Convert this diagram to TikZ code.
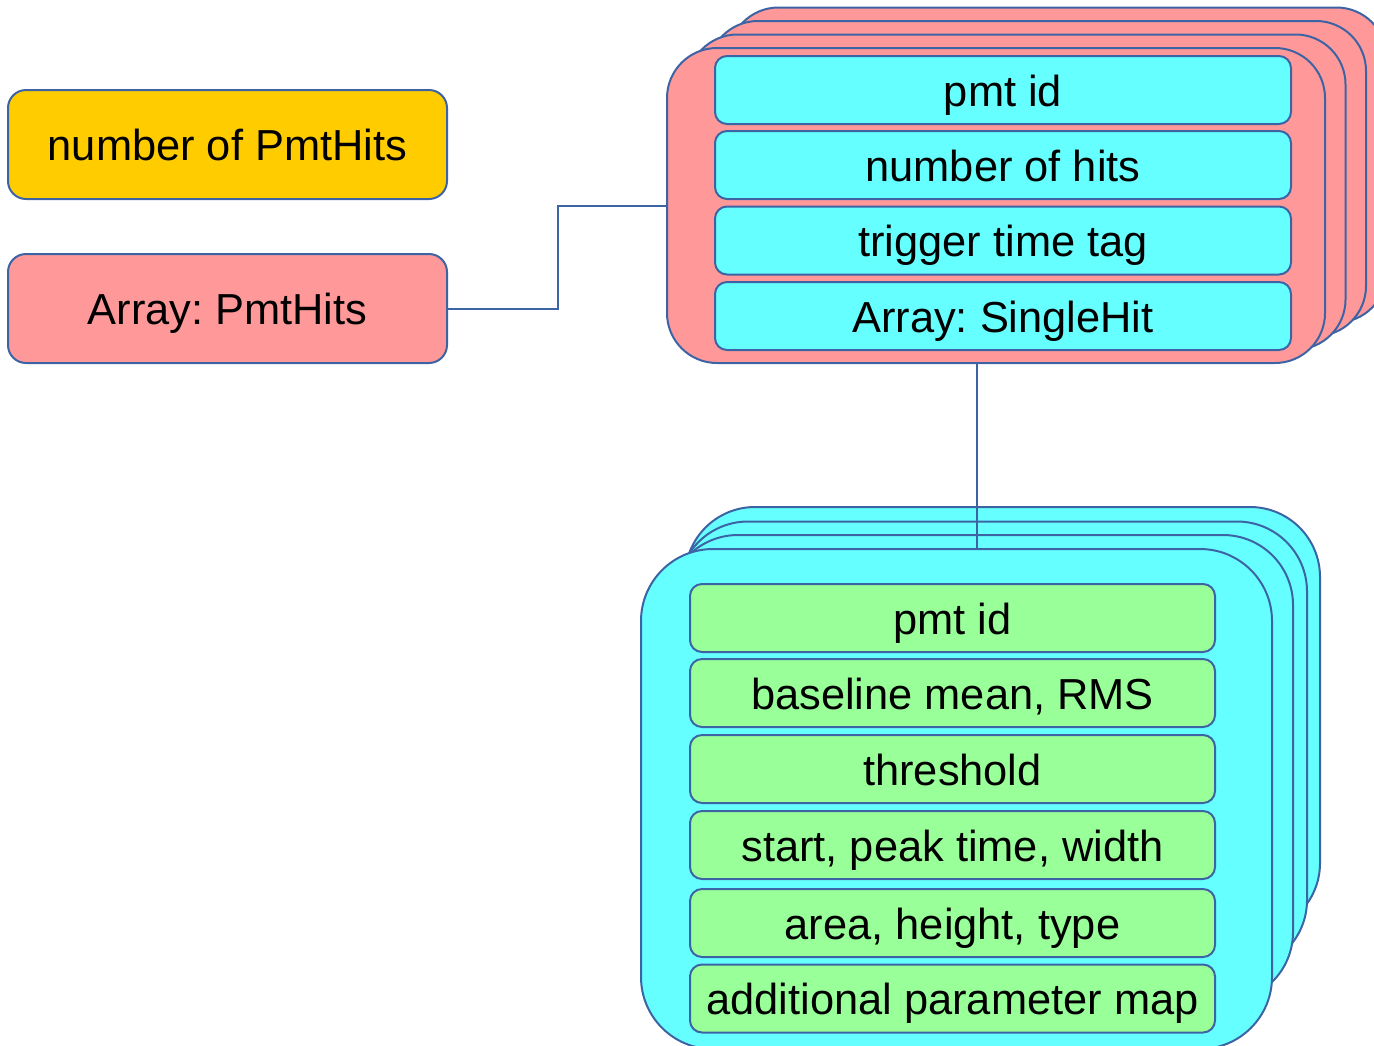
\documentclass[tikz,border=0pt]{standalone}
\usepackage{fontspec}
\setmainfont{Liberation Sans}
\frenchspacing
\definecolor{edge}{RGB}{60,100,165}
\definecolor{gold}{HTML}{FFCC00}
\definecolor{salmon}{HTML}{FF9999}
\definecolor{aqua}{HTML}{66FFFF}
\definecolor{mint}{HTML}{99FF99}
\newcommand\labelfont{\fontsize{21.7pt}{26pt}\selectfont}
\tikzset{
  outline/.style={draw=edge, line width=1pt},
  textbox/.style={inner sep=0pt, text height=20pt, text depth=4pt, font=\labelfont, align=center},
  topbox/.style={outline, textbox, rounded corners=9pt, minimum width=219.5pt, minimum height=54.5pt},
  hitcard/.style={outline, fill=salmon, rounded corners=25pt},
  pulsecard/.style={outline, fill=aqua, rounded corners=35pt},
  field/.style={outline, textbox, rounded corners=6pt, minimum height=34pt},
  hitfield/.style={field, fill=aqua, minimum width=288pt},
  pulsefield/.style={field, fill=mint, minimum width=262.5pt},
  link/.style={draw=edge, line width=1pt}
}
\begin{document}
\begin{tikzpicture}[x=0.5pt, y=-0.5pt]
\useasboundingbox (0,0) rectangle (1374,1045);
\clip (0,0) rectangle (1374,1045);

% event-level entries
\node[topbox, fill=gold]   (count) at (227.5,144.5) {number of PmtHits};
\node[topbox, fill=salmon] (hits)  at (227.5,308.5) {Array: PmtHits};

% stack of PmtHit records
\foreach \k in {3,2,1}
  \draw[hitcard] ({667+20.5*\k},{48-13.5*\k}) rectangle ({1325+20.5*\k},{363-13.5*\k});
\node[hitcard, inner sep=0pt, minimum width=329pt, minimum height=157.5pt] (hitfront) at (996,205.5) {};
\node[hitfield] (h1) at (1003,90)    {pmt id};
\node[hitfield] (h2) at (1003,165)   {number of hits};
\node[hitfield] (h3) at (1003,240.5) {trigger time tag};
\node[hitfield] (h4) at (1003,316)   {Array: SingleHit};

% stack of SingleHit records
\draw[pulsecard] (685,507)   rectangle (1320,933);
\draw[pulsecard] (678,521.5) rectangle (1307,970);
\draw[pulsecard] (668,535)   rectangle (1293,1002);
\node[pulsecard, rounded corners=36pt, inner sep=0pt, minimum width=315.5pt, minimum height=250pt] (pulsefront) at (956.5,799) {};
\node[pulsefield] (p1) at (952.5,618)   {pmt id};
\node[pulsefield] (p2) at (952.5,693)   {baseline mean, RMS};
\node[pulsefield] (p3) at (952.5,769)   {threshold};
\node[pulsefield] (p4) at (952.5,845)   {start, peak time, width};
\node[pulsefield] (p5) at (952.5,923)   {area, height, type};
\node[pulsefield] (p6) at (952.5,998.5) {additional parameter map};

% connectors
\draw[link] (hits.east) -- ++(110,0) |- (hitfront.west);
\coordinate (drop) at (977,0);
\draw[link] (drop |- hitfront.south) -- (drop |- pulsefront.north);
\end{tikzpicture}
\end{document}
